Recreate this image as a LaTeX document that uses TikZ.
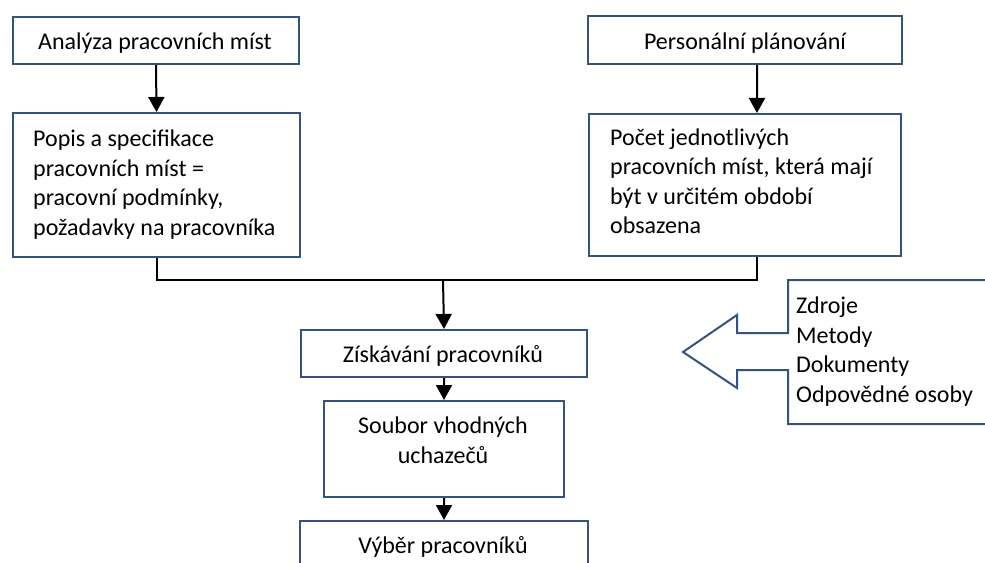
\documentclass[tikz,border=0pt]{standalone}
\usepackage{fontspec}
\setmainfont{Carlito}
\usetikzlibrary{arrows.meta}
\definecolor{boxblue}{HTML}{34547C}
\begin{document}
\begin{tikzpicture}[x=1bp,y=-1bp,
  box/.style={draw=boxblue, line width=2bp, fill=white, inner sep=0pt, anchor=north west},
  txt/.style={font=\fontsize{24bp}{29.5bp}\selectfont, inner sep=0pt},
  conn/.style={line width=2bp, draw=black},
  arr/.style={conn, -{Triangle[length=15bp,width=16bp]}}]
\useasboundingbox (0,0) rectangle (985,563);
% boxes
\node[box, minimum width=286bp, minimum height=47bp] (A) at (12,16) {};
\node[box, minimum width=314bp, minimum height=48bp] (P) at (587,15) {};
\node[box, minimum width=287bp, minimum height=144bp] (B) at (12,112) {};
\node[box, minimum width=312bp, minimum height=142bp] (Q) at (588,113) {};
\node[box, minimum width=286bp, minimum height=47bp] (Z) at (300,329) {};
\node[box, minimum width=240bp, minimum height=96bp] (S) at (323,400) {};
\node[box, minimum width=288bp, minimum height=70bp] (V) at (299,520) {};
% texts (multi-line nodes: base = baseline of last line)
\node[txt, anchor=base] (At) at (155,50) {Analýza pracovních míst};
\node[txt, anchor=base] (Pt) at (745,50) {Personální plánování};
\node[txt, anchor=base west, align=left] (Bt) at (33,235.5) {Popis a specifikace\\pracovních míst =\\pracovní podmínky,\\požadavky na pracovníka};
\node[txt, anchor=base west, align=left] (Qt) at (610,234) {Počet jednotlivých\\pracovních míst, která mají\\být v určitém období\\obsazena};
\node[txt, anchor=base] (Zt) at (443,362) {Získávání pracovníků};
\node[txt, anchor=base, align=center] (St) at (443,463) {Soubor vhodných\\uchazečů};
\node[txt, anchor=base] (Vt) at (443,553) {Výběr pracovníků};
% callout arrow
\draw[boxblue, line width=2bp, line join=miter, fill=white]
  (992,280) -- (788,280) -- (788,333) -- (737,333) -- (737,315) -- (683,352)
  -- (737,388) -- (737,370) -- (788,370) -- (788,424) -- (992,424);
\node[txt, anchor=base west, align=left] (Ct) at (796,402) {Zdroje\\Metody\\Dokumenty\\Odpovědné osoby};
% connectors
\coordinate (J) at (443,280);
\draw[arr] (A.south) -- (B.north);
\draw[arr] ([xshift=12bp]P.south) -- ([xshift=12bp]Q.north);
\draw[conn] (B.south) |- (J) -| ([xshift=12bp]Q.south);
\draw[arr] (J) -- (Z.north);
\draw[arr] (Z.south) -- (S.north);
\draw[arr] (S.south) -- (V.north);
\end{tikzpicture}
\end{document}
